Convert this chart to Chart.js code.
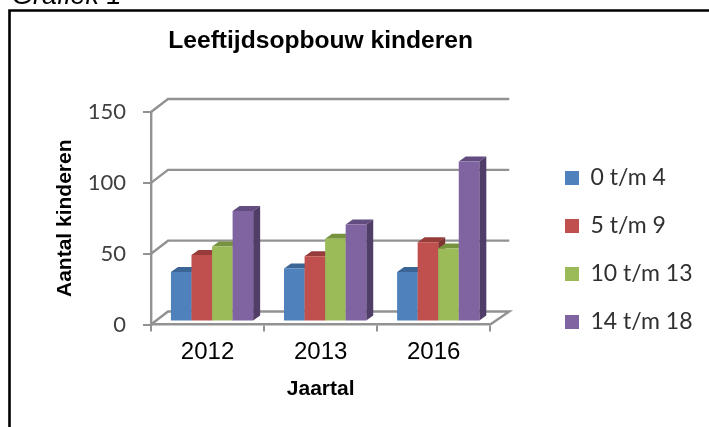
<!DOCTYPE html>
<html><head><meta charset="utf-8">
<style>html,body{margin:0;padding:0;background:#fff;overflow:hidden}canvas{display:block}</style>
<script src="https://cdn.jsdelivr.net/npm/chart.js@4"></script></head>
<body><div style="width:709px;height:427px;position:relative"><canvas id="c"></canvas></div>
<script>
const categories = ['2012','2013','2016'];
const seriesNames = ['0 t/m 4','5 t/m 9','10 t/m 13','14 t/m 18'];
const s0to4 = [35,37.5,35];
const s5to9 = [47,46,56];
const s10to13 = [53,58.5,51.5];
const s14to18 = [78,68.5,113];
const yTicks = [0,50,100,150];
const fronts = ['#4f81bd','#c0504d','#9bbb59','#8064a2'];
const tops = ['#3a6595','#973c3a','#78933f','#624c80'];
const sides = ['#315580','#7f3230','#65803a','#503e68'];
const gray = '#929292';
const shiftX = 4.5, shiftY = -3, depthX = 7, depthY = -5;

const wall = {
  id:'wall',
  beforeDatasetsDraw(chart){
    const {ctx,chartArea:a,scales:{y}} = chart;
    ctx.save();
    ctx.strokeStyle = gray; ctx.lineWidth = 2.4;
    yTicks.forEach(v=>{
      const p = y.getPixelForValue(v);
      ctx.beginPath();
      ctx.moveTo(a.left,p);
      ctx.lineTo(a.left+17,p-13);
      ctx.lineTo(a.right+19,p-13);
      if(v===0) ctx.lineTo(a.right,p);
      ctx.stroke();
    });
    ctx.restore();
    ctx.save();
    ctx.translate(shiftX,shiftY);
    chart.data.datasets.forEach((d,i)=>{
      const meta = chart.getDatasetMeta(i);
      meta.data.forEach(b=>{
        const l=b.x-b.width/2, r=b.x+b.width/2, t=b.y, base=b.base;
        ctx.fillStyle = tops[i];
        ctx.beginPath();ctx.moveTo(l,t);ctx.lineTo(l+depthX,t+depthY);ctx.lineTo(r+depthX,t+depthY);ctx.lineTo(r,t);ctx.closePath();ctx.fill();
        ctx.fillStyle = sides[i];
        ctx.beginPath();ctx.moveTo(r,t);ctx.lineTo(r+depthX,t+depthY);ctx.lineTo(r+depthX,base+depthY);ctx.lineTo(r,base);ctx.closePath();ctx.fill();
      });
      meta.controller.draw();
    });
    ctx.restore();
  },
  beforeDatasetDraw(){ return false; },
  afterLayout(chart){
    const lg = chart.legend;
    lg.top += 36; lg.bottom += 36;
    lg.left = 540; lg.right = 709;
  },
  afterDraw(chart){
    const ctx = chart.ctx;
    ctx.save();
    ctx.strokeStyle='#000';ctx.lineWidth=2.6;
    ctx.beginPath();ctx.moveTo(9.5,428);ctx.lineTo(9.5,10.5);ctx.lineTo(709,10.5);ctx.stroke();
    ctx.fillStyle='#000';ctx.font='italic 27px "Liberation Sans"';ctx.textBaseline='alphabetic';
    ctx.fillText('Grafiek 1',12,4);
    ctx.restore();
  }
};

new Chart(document.getElementById('c'),{
  type:'bar',
  data:{labels:categories,datasets:seriesNames.map((n,i)=>({
    label:n,data:[s0to4,s5to9,s10to13,s14to18][i],backgroundColor:fronts[i]}))},
  plugins:[wall],
  options:{
    responsive:true,maintainAspectRatio:false,animation:false,
    layout:{padding:{left:53,top:26,right:73,bottom:25}},
    datasets:{bar:{categoryPercentage:0.727,barPercentage:1,borderWidth:0}},
    plugins:{
      tooltip:{enabled:false},
      title:{display:true,fullSize:false,text:'Leeftijdsopbouw kinderen',color:'#000',
        font:{family:'"Liberation Sans"',size:24.6,weight:'bold'},padding:{top:0,bottom:56.5}},
      legend:{position:'right',align:'center',
        labels:{boxWidth:14,boxHeight:14,padding:25,color:'#303030',
          font:{family:'Lato',size:23}}}
    },
    scales:{
      x:{grid:{display:true,drawOnChartArea:false,color:gray,lineWidth:2,tickLength:7},
         border:{color:gray,width:2.4},
         ticks:{color:'#000',font:{family:'"Liberation Sans"',size:24},padding:6.5},
         title:{display:true,text:'Jaartal',color:'#000',font:{family:'"Liberation Sans"',size:21,weight:'bold'},padding:{top:3.5,bottom:0}}},
      y:{min:0,max:150,
         afterBuildTicks(s){s.ticks=yTicks.map(v=>({value:v}));},
         afterFit(s){s.width=98;},
         grid:{display:true,drawOnChartArea:false,color:gray,lineWidth:2,tickLength:8},
         border:{color:gray,width:2.4},
         ticks:{color:'#404040',font:{family:'Lato',size:22},padding:17},
         title:{display:true,text:'Aantal kinderen',color:'#000',font:{family:'"Liberation Sans"',size:21,weight:'bold'},padding:{top:0,bottom:0}}}
    }
  }
});
</script></body></html>
